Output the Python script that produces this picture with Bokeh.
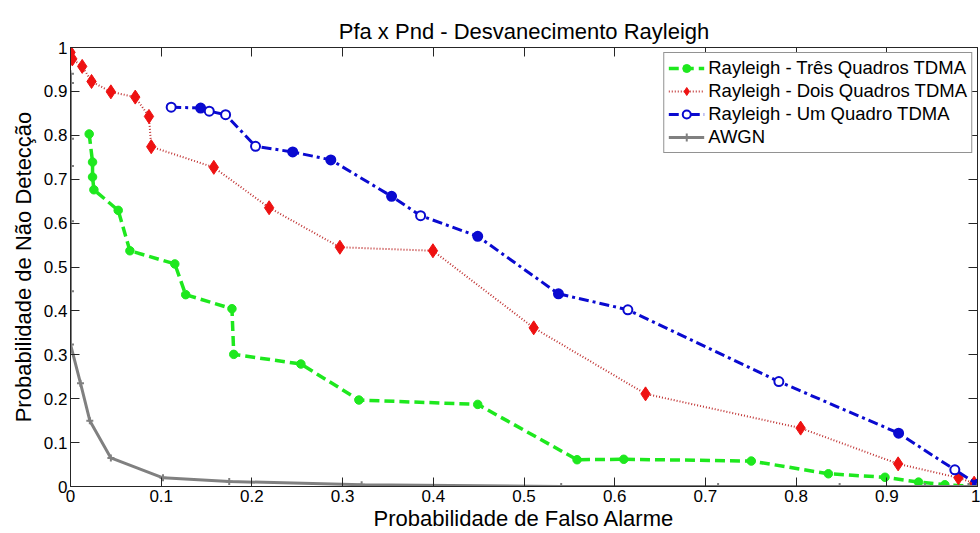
from bokeh.plotting import figure
from bokeh.models import Range1d, LinearAxis, FixedTicker, CustomJSTickFormatter
from bokeh.embed import file_html
from bokeh.resources import INLINE

# ---------------- data ----------------
tres_x = [0.0206, 0.0243, 0.0243, 0.0258, 0.0526, 0.0655, 0.115, 0.127, 0.178, 0.180,
          0.254, 0.318, 0.449, 0.5585, 0.610, 0.7506, 0.8356, 0.898, 0.935, 0.964, 1.0]
tres_y = [0.803, 0.739, 0.705, 0.676, 0.629, 0.537, 0.507, 0.437, 0.405, 0.301,
          0.279, 0.197, 0.187, 0.061, 0.062, 0.058, 0.029, 0.021, 0.010, 0.004, 0.0]

dois_x = [0.0, 0.002, 0.0129, 0.0232, 0.0445, 0.0714, 0.0865, 0.089, 0.158, 0.219,
          0.297, 0.3996, 0.5107, 0.634, 0.805, 0.9125, 0.979, 0.9963, 1.0]
dois_y = [0.989, 0.974, 0.957, 0.9226, 0.899, 0.887, 0.843, 0.774, 0.727, 0.635,
          0.545, 0.537, 0.3614, 0.211, 0.133, 0.0516, 0.0198, 0.0076, 0.0]

um_x = [0.111, 0.1435, 0.153, 0.171, 0.204, 0.245, 0.287, 0.354, 0.386, 0.449,
        0.538, 0.6145, 0.781, 0.913, 0.975, 1.0]
um_y = [0.864, 0.862, 0.855, 0.847, 0.775, 0.762, 0.744, 0.661, 0.617, 0.570,
        0.439, 0.4025, 0.239, 0.1215, 0.038, 0.005]

awgn_x = [0.0, 0.0, 0.0, 0.0, 0.0, 0.0, 0.0, 0.011, 0.0213, 0.0445, 0.102, 0.175,
          0.321, 0.541, 0.714, 0.848, 0.942, 0.99, 1.0]
awgn_y = [0.940, 0.919, 0.792, 0.730, 0.604, 0.445, 0.3235, 0.2354, 0.150, 0.065,
          0.0198, 0.0114, 0.004, 0.0, 0.0, 0.0, 0.0, 0.0, 0.0]

x_ticks = [0, 0.1, 0.2, 0.3, 0.4, 0.5, 0.6, 0.7, 0.8, 0.9, 1]
y_ticks = [0, 0.1, 0.2, 0.3, 0.4, 0.5, 0.6, 0.7, 0.8, 0.9, 1]

labels = ["Rayleigh - Três Quadros TDMA", "Rayleigh - Dois Quadros TDMA",
          "Rayleigh - Um Quadro TDMA", "AWGN"]
title_text = "Pfa x Pnd - Desvanecimento Rayleigh"
x_label = "Probabilidade de Falso Alarme"
y_label = "Probabilidade de Não Detecção"

# ---------------- style ----------------
FONT = "Liberation Sans"
AX = "#262626"
# which "Um Quadro" markers look filled (1) vs hollow (0)
um_marker_filled = [0, 1, 0, 0, 0, 1, 1, 1, 0, 1, 1, 0, 0, 1, 0, 1]

p = figure(width=980, height=533, output_backend="svg", toolbar_location=None,
           x_range=Range1d(0, 1), y_range=Range1d(0, 1),
           min_border_left=70, min_border_right=3, min_border_top=47, min_border_bottom=47,
           title=title_text)

p.background_fill_color = "white"
p.border_fill_color = "white"
p.outline_line_color = AX
p.outline_line_width = 1
p.grid.visible = False

p.title.text_font = FONT
p.title.text_font_size = "22px"
p.title.text_font_style = "normal"
p.title.text_color = "black"
p.title.align = "center"
p.title.standoff = 8
p.title.text_line_height = 0.75

fmt_code = "return (tick === 0 || tick === 1) ? tick.toFixed(0) : tick.toFixed(1);"

for ax, ticks, lab in ((p.xaxis[0], x_ticks, x_label), (p.yaxis[0], y_ticks, y_label)):
    ax.ticker = FixedTicker(ticks=ticks)
    ax.formatter = CustomJSTickFormatter(code=fmt_code)
    ax.axis_label = lab
    ax.axis_label_text_font = FONT
    ax.axis_label_text_font_size = "22px"
    ax.axis_label_text_font_style = "normal"
    ax.axis_label_text_color = "black"
    ax.major_label_text_font = FONT
    ax.major_label_text_font_size = "17px"
    ax.major_label_text_color = "black"
    ax.major_tick_in = 9
    ax.major_tick_out = 0
    ax.minor_tick_in = 0
    ax.minor_tick_out = 0
    ax.axis_line_color = AX
    ax.major_tick_line_color = AX
    ax.major_label_standoff = 3
    ax.axis_label_standoff = 1
p.yaxis[0].axis_label_standoff = 5

for loc, ticks in (("above", x_ticks), ("right", y_ticks)):
    a = LinearAxis(ticker=FixedTicker(ticks=ticks),
                   major_label_text_font_size="0px", major_label_standoff=0,
                   major_tick_in=9, major_tick_out=0, minor_tick_in=0, minor_tick_out=0,
                   axis_line_color=AX, major_tick_line_color=AX)
    p.add_layout(a, loc)

GREEN = "#1ee81e"
RED_LINE = "#c03434"
RED = "#ee1111"
BLUE = "#0a0ad0"
GRAY = "#808080"

# Três Quadros
p.line(tres_x, tres_y, line_color=GREEN, line_width=3.5, line_dash="10 5", legend_label=labels[0])
p.scatter(tres_x, tres_y, marker="circle", size=8.5, fill_color=GREEN, line_color=GREEN,
          legend_label=labels[0])

# Dois Quadros
p.line(dois_x, dois_y, line_color=RED_LINE, line_width=2, line_dash="1 2", legend_label=labels[1])
p.scatter(dois_x, dois_y, marker="diamond", size=14, fill_color=RED, line_color=RED,
          legend_label=labels[1])

# Um Quadro
um_fill = [BLUE if f else "white" for f in um_marker_filled]
p.line(um_x, um_y, line_color=BLUE, line_width=3, line_dash="10 4 3 4", legend_label=labels[2])
p.scatter(x=um_x, y=um_y, marker="circle", size=9, fill_color=um_fill, line_color=BLUE,
          line_width=2, legend_label=labels[2])

# AWGN
p.line(awgn_x, awgn_y, line_color=GRAY, line_width=3, legend_label=labels[3])
p.scatter(awgn_x, awgn_y, marker="cross", size=7, line_color=GRAY, line_width=2,
          legend_label=labels[3])

lg = p.legend[0]
lg.location = "top_right"
lg.margin = 5
lg.padding = 4
lg.spacing = 1
lg.glyph_width = 36
lg.glyph_height = 20
lg.label_height = 20
lg.label_standoff = 4
lg.label_text_font = FONT
lg.label_text_font_size = "18.5px"
lg.label_text_color = "black"
lg.border_line_color = AX
lg.border_line_width = 1
lg.background_fill_color = "white"
lg.background_fill_alpha = 1.0

open("out.html", "w").write(file_html(p, INLINE))
